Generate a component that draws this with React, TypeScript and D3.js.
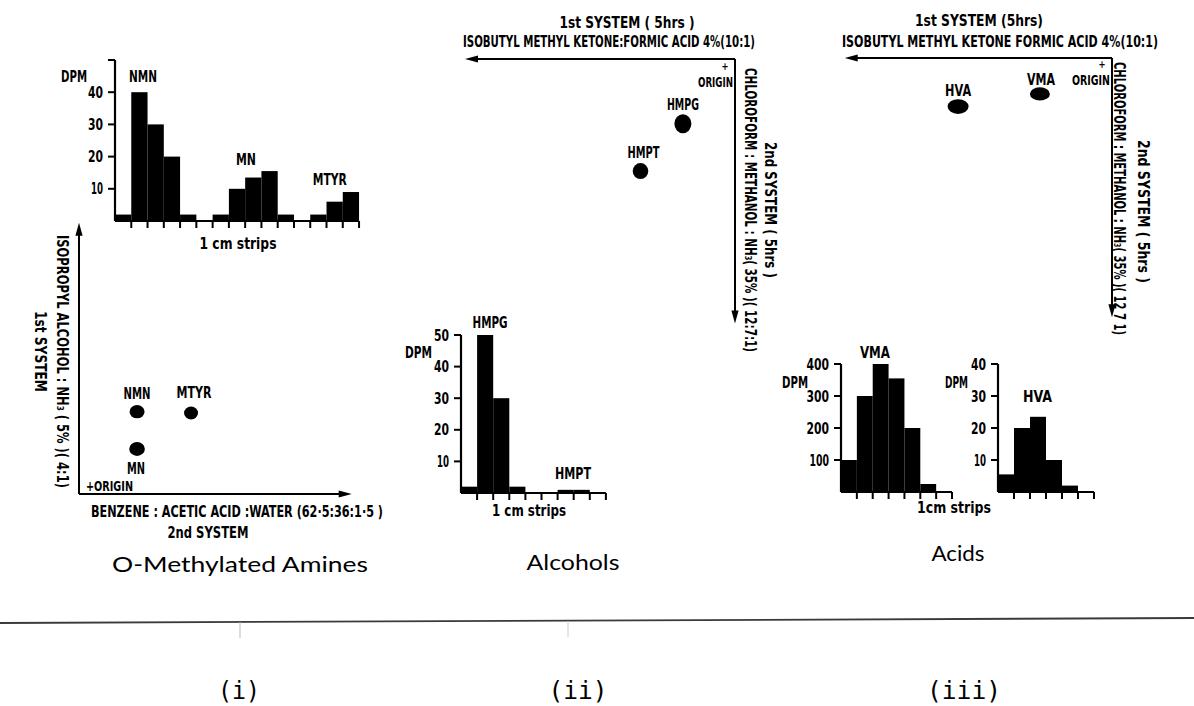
import React from "react"
import * as d3 from "d3"

// DPM counted in consecutive 1 cm strips
const amineStrips = [2, 40, 30, 20, 2, 0, 2, 10, 13.5, 15.5, 2, 0, 2, 6, 9]
const amineTicks = [10, 20, 30, 40]
const alcoholStrips = [2, 50, 30, 2, 0, 0, 1, 1, 0]
const alcoholTicks = [10, 20, 30, 40, 50]
const vmaStrips = [100, 300, 400, 355, 200, 25, 0]
const vmaTicks = [100, 200, 300, 400]
const hvaStrips = [5.5, 20, 23.5, 10, 2, 0]
const hvaTicks = [10, 20, 30, 40]

// spots: a = cm along first drawn axis from origin, b = cm along second
const amineSpots = [
  { name: "NMN", a: 2.15, b: 3.05 },
  { name: "MTYR", a: 4.15, b: 3.0 },
  { name: "MN", a: 2.15, b: 1.67 },
]
const alcoholSpots = [
  { name: "HMPG", a: 1.93, b: 2.4 },
  { name: "HMPT", a: 3.5, b: 4.15 },
]
const acidSpots = [
  { name: "VMA", a: 2.67, b: 1.33 },
  { name: "HVA", a: 5.7, b: 1.8 },
]

const FONT = "'DejaVu Sans Condensed','DejaVu Sans',sans-serif"

function Lbl({ x, y, w, size = 15, anchor = "start", rot = 0, weight = "bold", family = FONT, children }) {
  return (
    <text
      transform={`translate(${x},${y})${rot ? ` rotate(${rot})` : ""}`}
      textLength={w}
      lengthAdjust="spacingAndGlyphs"
      textAnchor={anchor}
      fontSize={size}
      fontWeight={weight}
      fontFamily={family}
      fill="#000"
    >
      {children}
    </text>
  )
}

const numW = s => s.split("").reduce((t, c) => t + (c === "1" ? 4.5 : 7.5), 0)

function arrowHead(x, y, dir) {
  const L = 13, H = 3.6
  const pts = {
    up: [[x, y], [x - H, y + L], [x + H, y + L]],
    right: [[x, y], [x - L, y - H], [x - L, y + H]],
    left: [[x, y], [x + L, y - H], [x + L, y + H]],
    down: [[x, y], [x - H, y - L], [x + H, y - L]],
  }[dir]
  return <polygon points={pts.map(p => p.join(",")).join(" ")} fill="#000" />
}

function Histogram({ values, ticks, top, x0, stripW, base, topPx, dpm, labels }) {
  const n = values.length
  const x = d3.scaleLinear().domain([0, n]).range([x0, x0 + n * stripW])
  const y = d3.scaleLinear().domain([0, top]).range([base, topPx])
  const yTicks = ticks.includes(top) ? ticks : [...ticks, top]
  return (
    <g>
      {values.map((v, i) => (
        <rect key={i} x={x(i)} y={y(v)} width={x(i + 1) - x(i)} height={y(0) - y(v)} fill="#000" />
      ))}
      <line x1={x0} x2={x(n)} y1={y(0)} y2={y(0)} stroke="#000" strokeWidth={2.2} />
      <line x1={x0} x2={x0} y1={y(top)} y2={y(0)} stroke="#000" strokeWidth={2.2} />
      {d3.range(1, n + 1).map(i => (
        <line key={i} x1={x(i)} x2={x(i)} y1={y(0)} y2={y(0) + 7} stroke="#000" strokeWidth={2} />
      ))}
      {yTicks.map(t => (
        <line key={t} x1={x0 - 7} x2={x0} y1={y(t)} y2={y(t)} stroke="#000" strokeWidth={2} />
      ))}
      {ticks.map(t => (
        <Lbl key={t} x={x0 - 12} y={y(t) + 5.5} w={numW(String(t))} anchor="end">{String(t)}</Lbl>
      ))}
      <Lbl x={x0 + dpm.dx} y={y(dpm.v)} w={dpm.w}>DPM</Lbl>
      {labels.map(l => (
        <Lbl key={l.text} x={x(l.i)} y={y(l.v)} w={l.w} anchor="middle" size={16}>{l.text}</Lbl>
      ))}
    </g>
  )
}

function Spot({ cx, cy, rx, ry }) {
  return <ellipse cx={cx} cy={cy} rx={rx} ry={ry} fill="#000" />
}

export default function App() {
  // panel (i): 2nd system to the right, 1st system upwards
  const ax = d3.scaleLinear().domain([0, 10]).range([79, 349])
  const ay = d3.scaleLinear().domain([0, 10]).range([494, 224])
  // panels (ii) and (iii): 1st system to the left, 2nd system downwards
  const bx = d3.scaleLinear().domain([0, 10]).range([735, 465])
  const by = d3.scaleLinear().domain([0, 10]).range([59, 329])
  const cx = d3.scaleLinear().domain([0, 10]).range([1112, 842])
  const cy = d3.scaleLinear().domain([0, 10]).range([58, 328])

  const amineLbl = { NMN: [0, -13, 27], MTYR: [3, -15, 35], MN: [-1, 25, 18] }
  const amineR = { NMN: [7.5, 6.7], MTYR: [7, 6.5], MN: [7.8, 7] }
  const alcLbl = { HMPG: [0, -14, 32], HMPT: [3, -13, 32] }
  const alcR = { HMPG: [8.5, 9.5], HMPT: [7.8, 8] }
  const acidLbl = { VMA: [1, -9, 28], HVA: [0, -11, 26] }
  const acidR = { VMA: [10, 6.6], HVA: [10.5, 7.4] }

  return (
    <svg width={1194} height={706} style={{ position: "absolute", left: 0, top: 0, background: "#fff" }}>
      <rect width={1194} height={706} fill="#fff" />

      {/* ---------- (i) O-Methylated Amines ---------- */}
      <Histogram
        values={amineStrips} ticks={amineTicks} top={50}
        x0={115} stripW={16.27} base={221} topPx={60}
        dpm={{ dx: -54, v: 43.2, w: 26 }}
        labels={[
          { text: "NMN", i: 1.72, v: 43.2, w: 28 },
          { text: "MN", i: 8.05, v: 17.4, w: 20 },
          { text: "MTYR", i: 13.2, v: 11.2, w: 34 },
        ]}
      />
      <Lbl x={238} y={249} w={77} anchor="middle">1 cm strips</Lbl>

      <line x1={ax(0)} x2={ax(0)} y1={ay(0)} y2={ay(10.05) + 8} stroke="#000" strokeWidth={2} />
      <line x1={ax(0)} x2={ax(10.1) - 8} y1={ay(0)} y2={ay(0)} stroke="#000" strokeWidth={2} />
      {arrowHead(ax(0), ay(10.05), "up")}
      {arrowHead(ax(10.1), ay(0), "right")}
      {amineSpots.map(s => (
        <g key={s.name}>
          <Spot cx={ax(s.a)} cy={ay(s.b)} rx={amineR[s.name][0]} ry={amineR[s.name][1]} />
          <Lbl x={ax(s.a) + amineLbl[s.name][0]} y={ay(s.b) + amineLbl[s.name][1]} w={amineLbl[s.name][2]} anchor="middle">{s.name}</Lbl>
        </g>
      ))}
      <Lbl x={86} y={491} w={47} size={14}>+ORIGIN</Lbl>
      <Lbl x={57} y={235} w={253} rot={90}>ISOPROPYL ALCOHOL : NH₃ ( 5% )( 4:1)</Lbl>
      <Lbl x={35} y={311} w={81} rot={90}>1st SYSTEM</Lbl>
      <Lbl x={91} y={517} w={292}>BENZENE : ACETIC ACID :WATER (62·5:36:1·5 )</Lbl>
      <Lbl x={208} y={538} w={81} anchor="middle">2nd SYSTEM</Lbl>
      <Lbl x={240} y={572} w={256} anchor="middle" size={21} weight="normal" family="Lato, 'DejaVu Sans', sans-serif">O-Methylated Amines</Lbl>

      {/* ---------- (ii) Alcohols ---------- */}
      <Lbl x={627} y={28} w={135} anchor="middle">1st SYSTEM ( 5hrs )</Lbl>
      <Lbl x={463} y={47} w={292}>ISOBUTYL METHYL KETONE:FORMIC ACID 4%(10:1)</Lbl>
      <line x1={bx(0)} x2={bx(10) + 8} y1={by(0)} y2={by(0)} stroke="#000" strokeWidth={2} />
      <line x1={bx(0)} x2={bx(0)} y1={by(0)} y2={by(9.8) - 8} stroke="#000" strokeWidth={2} />
      {arrowHead(bx(10), by(0), "left")}
      {arrowHead(bx(0), by(9.8), "down")}
      <Lbl x={725} y={70} w={7} size={11} anchor="middle">+</Lbl>
      <Lbl x={733} y={87} w={35} size={14} anchor="end">ORIGIN</Lbl>
      {alcoholSpots.map(s => (
        <g key={s.name}>
          <Spot cx={bx(s.a)} cy={by(s.b)} rx={alcR[s.name][0]} ry={alcR[s.name][1]} />
          <Lbl x={bx(s.a) + alcLbl[s.name][0]} y={by(s.b) + alcLbl[s.name][1]} w={alcLbl[s.name][2]} anchor="middle">{s.name}</Lbl>
        </g>
      ))}
      <Lbl x={745} y={68} w={284} rot={90}>CHLOROFORM : METHANOL : NH₃( 35% )( 12:7:1)</Lbl>
      <Lbl x={765} y={142} w={136} rot={90}>2nd SYSTEM ( 5hrs )</Lbl>

      <Histogram
        values={alcoholStrips} ticks={alcoholTicks} top={50}
        x0={461} stripW={16.1} base={493} topPx={335}
        dpm={{ dx: -56, v: 42.7, w: 27 }}
        labels={[
          { text: "HMPG", i: 1.8, v: 52.2, w: 35 },
          { text: "HMPT", i: 6.96, v: 4.4, w: 36 },
        ]}
      />
      <Lbl x={529} y={516} w={74} anchor="middle">1 cm strips</Lbl>
      <Lbl x={573} y={570} w={93} anchor="middle" size={21} weight="normal" family="Lato, 'DejaVu Sans', sans-serif">Alcohols</Lbl>

      {/* ---------- (iii) Acids ---------- */}
      <Lbl x={979} y={26} w={128} anchor="middle">1st SYSTEM (5hrs)</Lbl>
      <Lbl x={842} y={47} w={316}>ISOBUTYL METHYL KETONE  FORMIC ACID 4%(10:1)</Lbl>
      <line x1={cx(0)} x2={cx(9.9) + 8} y1={cy(0)} y2={cy(0)} stroke="#000" strokeWidth={2} />
      <line x1={cx(0)} x2={cx(0)} y1={cy(0)} y2={cy(9.6) - 8} stroke="#000" strokeWidth={2} />
      {arrowHead(cx(9.9), cy(0), "left")}
      {arrowHead(cx(0), cy(9.6), "down")}
      <Lbl x={1102} y={68} w={7} size={11} anchor="middle">+</Lbl>
      <Lbl x={1110} y={85} w={38} size={14} anchor="end">ORIGIN</Lbl>
      {acidSpots.map(s => (
        <g key={s.name}>
          <Spot cx={cx(s.a)} cy={cy(s.b)} rx={acidR[s.name][0]} ry={acidR[s.name][1]} />
          <Lbl x={cx(s.a) + acidLbl[s.name][0]} y={cy(s.b) + acidLbl[s.name][1]} w={acidLbl[s.name][2]} anchor="middle">{s.name}</Lbl>
        </g>
      ))}
      <Lbl x={1114} y={62} w={273} rot={90}>CHLOROFORM : METHANOL : NH₃( 35% )( 12 7 1)</Lbl>
      <Lbl x={1138} y={140} w={143} rot={90}>2nd SYSTEM ( 5hrs )</Lbl>

      <Histogram
        values={vmaStrips} ticks={vmaTicks} top={400}
        x0={841} stripW={15.86} base={492} topPx={364}
        dpm={{ dx: -59, v: 325, w: 26 }}
        labels={[{ text: "VMA", i: 2.14, v: 419, w: 30 }]}
      />
      <Histogram
        values={hvaStrips} ticks={hvaTicks} top={40}
        x0={998} stripW={16} base={492} topPx={364}
        dpm={{ dx: -53, v: 32.5, w: 23 }}
        labels={[{ text: "HVA", i: 2.47, v: 28, w: 29 }]}
      />
      <Lbl x={954} y={513} w={74} anchor="middle">1cm strips</Lbl>
      <Lbl x={958} y={561} w={53} anchor="middle" size={21} weight="normal" family="Lato, 'DejaVu Sans', sans-serif">Acids</Lbl>

      {/* ---------- footer ---------- */}
      <line x1={0} x2={1194} y1={623} y2={618} stroke="#3a3a3a" strokeWidth={1.8} />
      <line x1={240} x2={240} y1={622} y2={638} stroke="#bbb" strokeWidth={1} />
      <line x1={568} x2={568} y1={621} y2={637} stroke="#ccc" strokeWidth={1} />
      <Lbl x={239} y={699} w={42} size={24} weight="normal" anchor="middle" family="'DejaVu Sans Mono','Liberation Mono',monospace">(i)</Lbl>
      <Lbl x={578} y={699} w={59} size={24} weight="normal" anchor="middle" family="'DejaVu Sans Mono','Liberation Mono',monospace">(ii)</Lbl>
      <Lbl x={964} y={699} w={74} size={24} weight="normal" anchor="middle" family="'DejaVu Sans Mono','Liberation Mono',monospace">(iii)</Lbl>
    </svg>
  )
}
